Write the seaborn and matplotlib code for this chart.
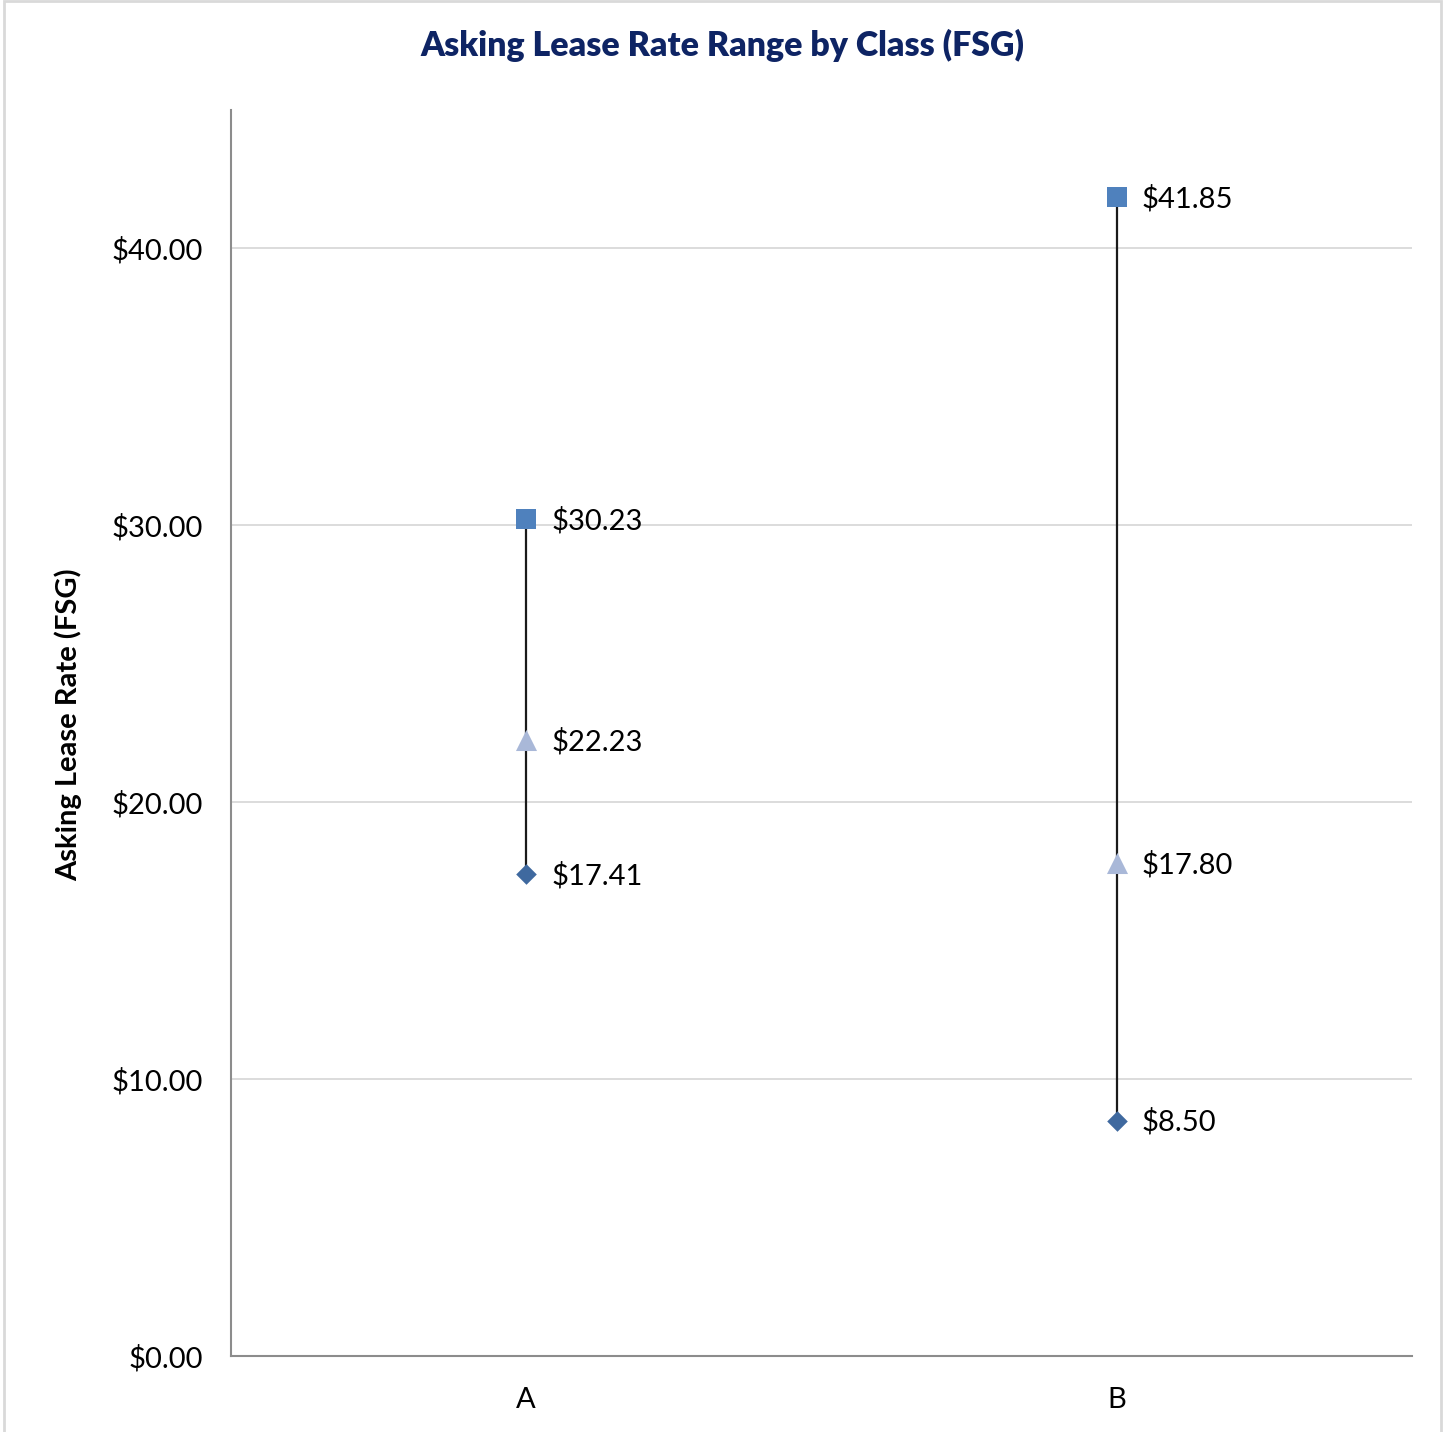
import matplotlib
matplotlib.use("Agg")
import matplotlib.pyplot as plt
import seaborn as sns
import pandas as pd
from matplotlib.patches import Rectangle

# Asking lease rates (FSG) by building class
classes = ["A", "B"]
high_rates = [30.23, 41.85]
avg_rates = [22.23, 17.80]
low_rates = [17.41, 8.50]
y_ticks = [0, 10, 20, 30, 40]

sns.set_theme(style="white")
plt.rcParams["font.family"] = ["Lato", "DejaVu Sans"]

df = pd.DataFrame({
    "Class": classes * 3,
    "Rate": high_rates + avg_rates + low_rates,
    "Stat": ["High"] * 2 + ["Average"] * 2 + ["Low"] * 2,
})
df["pos"] = df["Class"].map({c: i for i, c in enumerate(classes)})

fig = plt.figure(figsize=(14.48, 14.32), dpi=100)
ax = fig.add_axes([0.1595, 0.0531, 0.8156, 0.8701])

# range line from low to high for each class
ax.vlines(range(len(classes)), low_rates, high_rates, color="#1a1a1a", lw=1.6, zorder=2)

palette = {"High": "#4F81BD", "Average": "#A9B8D8", "Low": "#3F699F"}
markers = {"High": "s", "Average": "^", "Low": "D"}
sizes = {"High": 200, "Average": 230, "Low": 110}
for stat in ["High", "Average", "Low"]:
    sub = df[df["Stat"] == stat]
    sns.scatterplot(data=sub, x="pos", y="Rate", marker=markers[stat],
                    color=palette[stat], s=sizes[stat], linewidth=0,
                    ax=ax, zorder=3, legend=False)
    for x, v in zip(sub["pos"], sub["Rate"]):
        ax.annotate(f"${v:.2f}", (x, v), xytext=(18, -1), textcoords="offset points",
                    va="center", ha="left", fontsize=21, color="black")

ax.set_xlim(-0.5, len(classes) - 0.5)
ax.set_ylim(0, 45)
ax.set_xticks(range(len(classes)))
ax.set_xticklabels(classes)
ax.set_yticks(y_ticks)
ax.set_yticklabels([f"${t:.2f}" for t in y_ticks])
ax.tick_params(axis="both", length=0, labelsize=21, colors="black")
ax.tick_params(axis="y", pad=20)
ax.tick_params(axis="x", pad=22)
ax.yaxis.grid(True, color="#D9D9D9", lw=1.3)
ax.set_axisbelow(True)
for side in ["top", "right"]:
    ax.spines[side].set_visible(False)
for side in ["left", "bottom"]:
    ax.spines[side].set_color("#8C8C8C")
    ax.spines[side].set_linewidth(1.5)

ax.set_xlabel("")
ax.set_ylabel("Asking Lease Rate (FSG)", fontsize=21, fontweight="bold",
              color="black", va="center")
ax.yaxis.set_label_coords(-0.138, 0.507)

fig.text(0.4986, 0.968, "Asking Lease Rate Range by Class (FSG)", ha="center",
         va="center", fontsize=24.4, fontweight="heavy", color="#0E2464")

# chart border
fig.patches.append(Rectangle((0.003, -0.01), 0.992, 1.009, transform=fig.transFigure,
                             fill=False, edgecolor="#D9D9D9", lw=2))

fig.savefig("out.png", dpi=100)
